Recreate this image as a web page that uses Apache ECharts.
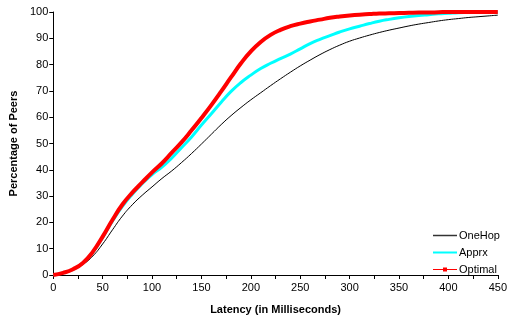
<!DOCTYPE html>
<html>
<head>
<meta charset="utf-8">
<script src="https://cdn.jsdelivr.net/npm/echarts@6/dist/echarts.min.js"></script>
<style>html,body{margin:0;padding:0;background:#fff;}#c{width:510px;height:320px;}</style>
</head>
<body>
<div id="c"></div>
<script>
var latency = [0,10,20,30,40,50,60,70,80,90,100,110,120,130,140,150,160,170,180,190,200,210,220,230,240,250,260,270,280,290,300,310,320,330,340,350,360,370,380,390,400,410,420,430,440,450];
var oneHop = [0,0.7,2,4,7.2,11.8,17.2,22.4,26.7,30.3,33.5,36.7,39.6,42.8,46.2,49.8,53.5,57.2,60.6,63.7,66.6,69.3,72,74.6,77.1,79.5,81.7,83.8,85.7,87.4,88.9,90.1,91.2,92.2,93.1,93.9,94.7,95.4,96,96.6,97.1,97.5,97.9,98.2,98.5,98.8];
var apprx = [0,0.8,2.1,4.5,8.6,14.3,20.6,26.1,30.7,34.7,38.2,41,44.5,48.5,52.5,57,61.3,65.7,69.8,73.2,76,78.5,80.5,82.3,84,86,88,89.6,91,92.4,93.6,94.6,95.6,96.5,97.2,97.8,98.3,98.7,99,99.3,99.5,99.7,99.8,99.9,100,100];
var optimal = [0,0.8,2.2,4.6,8.8,14.6,21,26.8,31.3,35.2,39,42.5,46.5,50.5,55,59.7,64.6,69.8,75.2,80.5,85,88.6,91.3,93.2,94.6,95.6,96.4,97.1,97.8,98.3,98.7,99,99.2,99.4,99.5,99.6,99.7,99.8,99.8,99.9,100,100,100,100,100,100];
var seriesNames = ['OneHop','Apprx','Optimal'];

function pairs(ys){ return latency.map(function(x,i){ return [x, ys[i]]; }); }

var chart = echarts.init(document.getElementById('c'));
var font = 'Liberation Sans, Arial, sans-serif';
chart.setOption({
  animation: false,
  backgroundColor: '#fff',
  textStyle: { fontFamily: font },
  grid: { left: 52, right: 8, top: 12, bottom: 43 },
  legend: {
    orient: 'vertical',
    left: 427,
    top: 225,
    itemWidth: 24,
    itemHeight: 10,
    itemGap: 6,
    textStyle: { fontFamily: font, fontSize: 11, color: '#000', padding: [0,0,0,-3] },
    data: [
      { name: seriesNames[0], itemStyle: { opacity: 0 }, lineStyle: { width: 1.5, color: '#333' } },
      { name: seriesNames[1], itemStyle: { opacity: 0 } },
      { name: seriesNames[2], lineStyle: { width: 1 } }
    ]
  },
  xAxis: {
    type: 'value',
    min: 0, max: 450, interval: 25,
    name: 'Latency (in Milliseconds)',
    nameLocation: 'middle',
    nameGap: 29,
    nameTextStyle: { fontFamily: font, fontSize: 11, fontWeight: 'bold', color: '#000' },
    axisLine: { lineStyle: { color: '#000', width: 1 } },
    axisTick: { show: true, length: 4, lineStyle: { color: '#000' } },
    axisLabel: { color: '#000', fontSize: 11, fontFamily: font, margin: 7,
      formatter: function(v){ return v % 50 === 0 ? String(v) : ''; } },
    splitLine: { show: false }
  },
  yAxis: {
    type: 'value',
    min: 0, max: 100, interval: 10,
    name: 'Percentage of Peers',
    nameLocation: 'middle',
    nameGap: 30,
    nameTextStyle: { fontFamily: font, fontSize: 11, fontWeight: 'bold', color: '#000' },
    axisLine: { show: true, lineStyle: { color: '#000', width: 1 } },
    axisTick: { show: true, length: 4, lineStyle: { color: '#000' } },
    axisLabel: { color: '#000', fontSize: 11, fontFamily: font, margin: 5 },
    splitLine: { show: false }
  },
  series: [
    { name: seriesNames[0], type: 'line', data: pairs(oneHop), smooth: true, symbol: 'none',
      lineStyle: { color: '#000', width: 1 }, itemStyle: { color: '#000' }, z: 2 },
    { name: seriesNames[1], type: 'line', data: pairs(apprx), smooth: true, symbol: 'none',
      lineStyle: { color: '#00ffff', width: 3 }, itemStyle: { color: '#00ffff' }, z: 3 },
    { name: seriesNames[2], type: 'line', data: pairs(optimal), smooth: true,
      symbol: 'path://M0,0M10,10M2.5,2.5h5v5h-5z', symbolSize: 10, showSymbol: false,
      lineStyle: { color: '#ff0000', width: 4 }, itemStyle: { color: '#ff0000' }, z: 4 }
  ]
});
</script>
</body>
</html>
